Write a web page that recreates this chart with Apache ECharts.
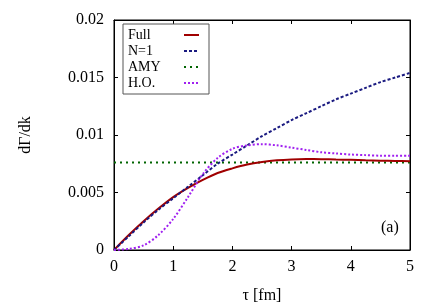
<!DOCTYPE html>
<html><head><meta charset="utf-8">
<script src="https://cdn.jsdelivr.net/npm/echarts@6/dist/echarts.min.js"></script>
<style>html,body{margin:0;padding:0;background:#fff}#c{width:436px;height:305px}</style>
</head><body><div id="c"></div>
<script>
const tau = [0,0.25,0.5,0.75,1,1.25,1.5,1.75,2,2.25,2.5,2.75,3,3.25,3.5,3.75,4,4.25,4.5,4.75,5];
const full = [0,0.0013,0.0025,0.0036,0.0046,0.0054,0.0061,0.0067,0.0071,0.00743,0.00765,0.00780,0.00788,0.00791,0.00790,0.00787,0.00784,0.00780,0.00777,0.00774,0.00772];
const n1 = [0,0.0012,0.0024,0.0035,0.0045,0.0055,0.0065,0.0075,0.0083,0.0091,0.0099,0.0106,0.0113,0.0119,0.0125,0.0131,0.0136,0.0141,0.0146,0.0150,0.0154];
const amy = [0.0076,0.0076,0.0076,0.0076,0.0076,0.0076,0.0076,0.0076,0.0076,0.0076,0.0076,0.0076,0.0076,0.0076,0.0076,0.0076,0.0076,0.0076,0.0076,0.0076,0.0076];
const ho = [0,0.0001,0.0004,0.0013,0.0027,0.0046,0.0066,0.0080,0.0088,0.0091,0.0092,0.0091,0.0089,0.0087,0.0085,0.0084,0.0083,0.00825,0.0082,0.0082,0.0082];
const names = ['Full','N=1','AMY','H.O.'];
const xTicks = [0,1,2,3,4,5];
const yTicks = ['0','0.005','0.01','0.015','0.02'];

const FONT = 'Liberation Serif';
const pair = a => tau.map((t,i)=>[t,a[i]]);
const chart = echarts.init(document.getElementById('c'));
const tickIn = {show:true,inside:true,length:4,lineStyle:{color:'#000'}};
const line = {show:true,onZero:false,lineStyle:{color:'#000',width:1}};
chart.setOption({
  animation:false,
  grid:{left:114,right:26,top:20,bottom:55,containLabel:false,outerBoundsMode:'none',
    show:true,borderColor:'#000',borderWidth:1,backgroundColor:'transparent'},
  legend:{
    orient:'vertical',left:123,top:24,
    data:names,align:'right',
    itemWidth:15,itemHeight:8,itemGap:2,
    padding:[4,9,4,5],
    borderColor:'#555',borderWidth:1,
    itemStyle:{opacity:0},
    formatter:n=>'{a|'+n+'}',
    textStyle:{fontFamily:FONT,fontSize:14,color:'#000',
      rich:{a:{fontFamily:FONT,fontSize:14,color:'#000',width:51,align:'left',lineHeight:15}}}
  },
  xAxis:[{
    type:'value',min:0,max:5,interval:1,
    name:'τ [fm]',nameLocation:'middle',nameGap:38,
    nameTextStyle:{fontFamily:FONT,fontSize:16,color:'#000'},
    axisLine:line,axisTick:tickIn,splitLine:{show:false},
    axisLabel:{fontFamily:FONT,fontSize:16,color:'#000',margin:9,formatter:v=>String(xTicks[Math.round(v)])}
  },{
    type:'value',min:0,max:5,interval:1,position:'top',
    axisLine:line,axisTick:tickIn,axisLabel:{show:false},splitLine:{show:false}
  }],
  yAxis:[{
    type:'value',min:0,max:0.02,interval:0.005,
    name:'dΓ/dk',nameLocation:'middle',nameGap:80,
    nameTextStyle:{fontFamily:FONT,fontSize:16,color:'#000'},
    axisLine:line,axisTick:tickIn,splitLine:{show:false},
    axisLabel:{fontFamily:FONT,fontSize:16,color:'#000',margin:10,formatter:v=>yTicks[Math.round(v/0.005)]}
  },{
    type:'value',min:0,max:0.02,interval:0.005,position:'right',
    axisLine:line,axisTick:tickIn,axisLabel:{show:false},splitLine:{show:false}
  }],
  graphic:[{type:'text',left:381,top:220,style:{text:'(a)',font:'16px "Liberation Serif"',fill:'#000'}}],
  series:[
    {name:'Full',type:'line',data:pair(full),smooth:0.3,showSymbol:false,symbol:'none',color:'#a00000',lineStyle:{width:2,color:'#a00000'},z:4},
    {name:'N=1',type:'line',data:pair(n1),smooth:0.3,showSymbol:false,symbol:'none',color:'#1a1a80',lineStyle:{width:2,color:'#1a1a80',type:[3,2]},z:5},
    {name:'AMY',type:'line',data:pair(amy),showSymbol:false,symbol:'none',color:'#006400',lineStyle:{width:2,color:'#006400',type:[2,4]},z:3},
    {name:'H.O.',type:'line',data:pair(ho),smooth:0.3,showSymbol:false,symbol:'none',color:'#a020f0',lineStyle:{width:2,color:'#a020f0',type:[2,2]},z:6}
  ]
});
</script></body></html>
